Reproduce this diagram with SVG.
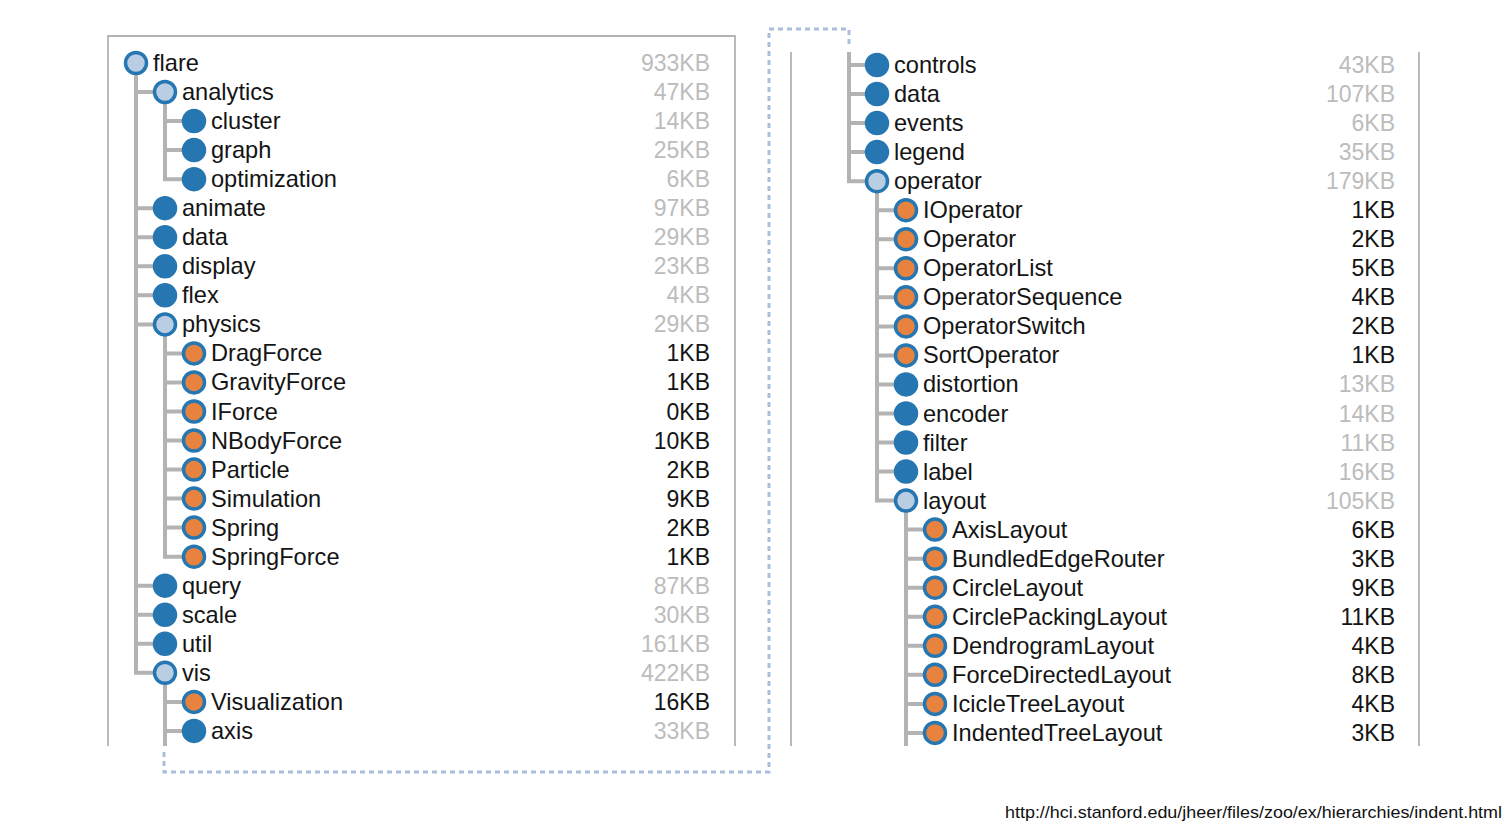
<svg xmlns="http://www.w3.org/2000/svg" width="1510" height="824" viewBox="0 0 1510 824">
<style>
text{font-family:"Liberation Sans",Arial,sans-serif;}
.lbl{font-size:23.6px;fill:#141414;}
.sz{font-size:23px;text-anchor:end;fill:#bcbcbc;}
.sz.leaf{fill:#141414;}
.n{stroke:#2677b1;stroke-width:3.5;}
.exp{fill:#b9cde3;}
.col{fill:#2677b1;}
.lf{fill:#e8833f;}
.link{fill:none;stroke:#b3b3b3;stroke-width:4;}
.frame{fill:none;stroke:#b3b3b3;stroke-width:1.8;}
.dash{fill:none;stroke:#a8bedc;stroke-width:3;stroke-dasharray:5 4;}
.url{font-size:17px;fill:#111;}
</style>
<rect width="1510" height="824" fill="#fff"/>
<g id="frames">
<path class="frame" d="M108 746V36H735V746"/>
<path class="frame" d="M791 52V746M1419 52V746"/>
</g>
<path id="continuation" class="dash" d="M164 752V772H769V29H849V48"/>
<g id="connectors">
<path class="link" d="M136 63V92H165M136 92V208.2H165M136 208V237.2H165M136 237V266.3H165M136 266V295.3H165M136 295V324.4H165M136 324V585.7H165M136 585V614.8H165M136 614V643.8H165M136 643V672.8H165"/>
<path class="link" d="M165 92V121.1H194M165 121V150.1H194M165 150V179.2H194"/>
<path class="link" d="M165 324.4V353.4H194M165 353V382.4H194M165 382V411.5H194M165 411V440.5H194M165 440V469.6H194M165 469V498.6H194M165 498V527.6H194M165 527V556.7H194"/>
<path class="link" d="M165 672.8V701.9H194M165 701V730.9H194M165 730V746"/>
<path class="link" d="M849 52V65H877M849 65V94H877M849 94V123.1H877M849 123V152.1H877M849 152V181.2H877"/>
<path class="link" d="M877 181.2V210.2H906M877 210V239.2H906M877 239V268.3H906M877 268V297.3H906M877 297V326.4H906M877 326V355.4H906M877 355V384.4H906M877 384V413.5H906M877 413V442.5H906M877 442V471.6H906M877 471V500.6H906"/>
<path class="link" d="M906 500.6V529.6H935M906 529V558.7H935M906 558V587.7H935M906 587V616.8H935M906 616V645.8H935M906 645V674.8H935M906 674V703.9H935M906 703V732.9H935M906 732V746"/>
</g>
<g id="n-flare"><circle class="n exp" cx="136" cy="63" r="10.5"/><text class="lbl" x="153" y="71">flare</text><text class="sz" x="710" y="71">933KB</text></g>
<g id="n-analytics"><circle class="n exp" cx="165" cy="92" r="10.5"/><text class="lbl" x="182" y="100">analytics</text><text class="sz" x="710" y="100">47KB</text></g>
<g id="n-cluster"><circle class="n col" cx="194" cy="121.1" r="10.5"/><text class="lbl" x="211" y="129.1">cluster</text><text class="sz" x="710" y="129.1">14KB</text></g>
<g id="n-graph"><circle class="n col" cx="194" cy="150.1" r="10.5"/><text class="lbl" x="211" y="158.1">graph</text><text class="sz" x="710" y="158.1">25KB</text></g>
<g id="n-optimization"><circle class="n col" cx="194" cy="179.2" r="10.5"/><text class="lbl" x="211" y="187.2">optimization</text><text class="sz" x="710" y="187.2">6KB</text></g>
<g id="n-animate"><circle class="n col" cx="165" cy="208.2" r="10.5"/><text class="lbl" x="182" y="216.2">animate</text><text class="sz" x="710" y="216.2">97KB</text></g>
<g id="n-data"><circle class="n col" cx="165" cy="237.2" r="10.5"/><text class="lbl" x="182" y="245.2">data</text><text class="sz" x="710" y="245.2">29KB</text></g>
<g id="n-display"><circle class="n col" cx="165" cy="266.3" r="10.5"/><text class="lbl" x="182" y="274.3">display</text><text class="sz" x="710" y="274.3">23KB</text></g>
<g id="n-flex"><circle class="n col" cx="165" cy="295.3" r="10.5"/><text class="lbl" x="182" y="303.3">flex</text><text class="sz" x="710" y="303.3">4KB</text></g>
<g id="n-physics"><circle class="n exp" cx="165" cy="324.4" r="10.5"/><text class="lbl" x="182" y="332.4">physics</text><text class="sz" x="710" y="332.4">29KB</text></g>
<g id="n-DragForce"><circle class="n lf" cx="194" cy="353.4" r="10.5"/><text class="lbl" x="211" y="361.4">DragForce</text><text class="sz leaf" x="710" y="361.4">1KB</text></g>
<g id="n-GravityForce"><circle class="n lf" cx="194" cy="382.4" r="10.5"/><text class="lbl" x="211" y="390.4">GravityForce</text><text class="sz leaf" x="710" y="390.4">1KB</text></g>
<g id="n-IForce"><circle class="n lf" cx="194" cy="411.5" r="10.5"/><text class="lbl" x="211" y="419.5">IForce</text><text class="sz leaf" x="710" y="419.5">0KB</text></g>
<g id="n-NBodyForce"><circle class="n lf" cx="194" cy="440.5" r="10.5"/><text class="lbl" x="211" y="448.5">NBodyForce</text><text class="sz leaf" x="710" y="448.5">10KB</text></g>
<g id="n-Particle"><circle class="n lf" cx="194" cy="469.6" r="10.5"/><text class="lbl" x="211" y="477.6">Particle</text><text class="sz leaf" x="710" y="477.6">2KB</text></g>
<g id="n-Simulation"><circle class="n lf" cx="194" cy="498.6" r="10.5"/><text class="lbl" x="211" y="506.6">Simulation</text><text class="sz leaf" x="710" y="506.6">9KB</text></g>
<g id="n-Spring"><circle class="n lf" cx="194" cy="527.6" r="10.5"/><text class="lbl" x="211" y="535.6">Spring</text><text class="sz leaf" x="710" y="535.6">2KB</text></g>
<g id="n-SpringForce"><circle class="n lf" cx="194" cy="556.7" r="10.5"/><text class="lbl" x="211" y="564.7">SpringForce</text><text class="sz leaf" x="710" y="564.7">1KB</text></g>
<g id="n-query"><circle class="n col" cx="165" cy="585.7" r="10.5"/><text class="lbl" x="182" y="593.7">query</text><text class="sz" x="710" y="593.7">87KB</text></g>
<g id="n-scale"><circle class="n col" cx="165" cy="614.8" r="10.5"/><text class="lbl" x="182" y="622.8">scale</text><text class="sz" x="710" y="622.8">30KB</text></g>
<g id="n-util"><circle class="n col" cx="165" cy="643.8" r="10.5"/><text class="lbl" x="182" y="651.8">util</text><text class="sz" x="710" y="651.8">161KB</text></g>
<g id="n-vis"><circle class="n exp" cx="165" cy="672.8" r="10.5"/><text class="lbl" x="182" y="680.8">vis</text><text class="sz" x="710" y="680.8">422KB</text></g>
<g id="n-Visualization"><circle class="n lf" cx="194" cy="701.9" r="10.5"/><text class="lbl" x="211" y="709.9">Visualization</text><text class="sz leaf" x="710" y="709.9">16KB</text></g>
<g id="n-axis"><circle class="n col" cx="194" cy="730.9" r="10.5"/><text class="lbl" x="211" y="738.9">axis</text><text class="sz" x="710" y="738.9">33KB</text></g>
<g id="n-controls"><circle class="n col" cx="877" cy="65" r="10.5"/><text class="lbl" x="894" y="73">controls</text><text class="sz" x="1395" y="73">43KB</text></g>
<g id="n-vis-data"><circle class="n col" cx="877" cy="94" r="10.5"/><text class="lbl" x="894" y="102">data</text><text class="sz" x="1395" y="102">107KB</text></g>
<g id="n-events"><circle class="n col" cx="877" cy="123.1" r="10.5"/><text class="lbl" x="894" y="131.1">events</text><text class="sz" x="1395" y="131.1">6KB</text></g>
<g id="n-legend"><circle class="n col" cx="877" cy="152.1" r="10.5"/><text class="lbl" x="894" y="160.1">legend</text><text class="sz" x="1395" y="160.1">35KB</text></g>
<g id="n-operator"><circle class="n exp" cx="877" cy="181.2" r="10.5"/><text class="lbl" x="894" y="189.2">operator</text><text class="sz" x="1395" y="189.2">179KB</text></g>
<g id="n-IOperator"><circle class="n lf" cx="906" cy="210.2" r="10.5"/><text class="lbl" x="923" y="218.2">IOperator</text><text class="sz leaf" x="1395" y="218.2">1KB</text></g>
<g id="n-Operator"><circle class="n lf" cx="906" cy="239.2" r="10.5"/><text class="lbl" x="923" y="247.2">Operator</text><text class="sz leaf" x="1395" y="247.2">2KB</text></g>
<g id="n-OperatorList"><circle class="n lf" cx="906" cy="268.3" r="10.5"/><text class="lbl" x="923" y="276.3">OperatorList</text><text class="sz leaf" x="1395" y="276.3">5KB</text></g>
<g id="n-OperatorSequence"><circle class="n lf" cx="906" cy="297.3" r="10.5"/><text class="lbl" x="923" y="305.3">OperatorSequence</text><text class="sz leaf" x="1395" y="305.3">4KB</text></g>
<g id="n-OperatorSwitch"><circle class="n lf" cx="906" cy="326.4" r="10.5"/><text class="lbl" x="923" y="334.4">OperatorSwitch</text><text class="sz leaf" x="1395" y="334.4">2KB</text></g>
<g id="n-SortOperator"><circle class="n lf" cx="906" cy="355.4" r="10.5"/><text class="lbl" x="923" y="363.4">SortOperator</text><text class="sz leaf" x="1395" y="363.4">1KB</text></g>
<g id="n-distortion"><circle class="n col" cx="906" cy="384.4" r="10.5"/><text class="lbl" x="923" y="392.4">distortion</text><text class="sz" x="1395" y="392.4">13KB</text></g>
<g id="n-encoder"><circle class="n col" cx="906" cy="413.5" r="10.5"/><text class="lbl" x="923" y="421.5">encoder</text><text class="sz" x="1395" y="421.5">14KB</text></g>
<g id="n-filter"><circle class="n col" cx="906" cy="442.5" r="10.5"/><text class="lbl" x="923" y="450.5">filter</text><text class="sz" x="1395" y="450.5">11KB</text></g>
<g id="n-label"><circle class="n col" cx="906" cy="471.6" r="10.5"/><text class="lbl" x="923" y="479.6">label</text><text class="sz" x="1395" y="479.6">16KB</text></g>
<g id="n-layout"><circle class="n exp" cx="906" cy="500.6" r="10.5"/><text class="lbl" x="923" y="508.6">layout</text><text class="sz" x="1395" y="508.6">105KB</text></g>
<g id="n-AxisLayout"><circle class="n lf" cx="935" cy="529.6" r="10.5"/><text class="lbl" x="952" y="537.6">AxisLayout</text><text class="sz leaf" x="1395" y="537.6">6KB</text></g>
<g id="n-BundledEdgeRouter"><circle class="n lf" cx="935" cy="558.7" r="10.5"/><text class="lbl" x="952" y="566.7">BundledEdgeRouter</text><text class="sz leaf" x="1395" y="566.7">3KB</text></g>
<g id="n-CircleLayout"><circle class="n lf" cx="935" cy="587.7" r="10.5"/><text class="lbl" x="952" y="595.7">CircleLayout</text><text class="sz leaf" x="1395" y="595.7">9KB</text></g>
<g id="n-CirclePackingLayout"><circle class="n lf" cx="935" cy="616.8" r="10.5"/><text class="lbl" x="952" y="624.8">CirclePackingLayout</text><text class="sz leaf" x="1395" y="624.8">11KB</text></g>
<g id="n-DendrogramLayout"><circle class="n lf" cx="935" cy="645.8" r="10.5"/><text class="lbl" x="952" y="653.8">DendrogramLayout</text><text class="sz leaf" x="1395" y="653.8">4KB</text></g>
<g id="n-ForceDirectedLayout"><circle class="n lf" cx="935" cy="674.8" r="10.5"/><text class="lbl" x="952" y="682.8">ForceDirectedLayout</text><text class="sz leaf" x="1395" y="682.8">8KB</text></g>
<g id="n-IcicleTreeLayout"><circle class="n lf" cx="935" cy="703.9" r="10.5"/><text class="lbl" x="952" y="711.9">IcicleTreeLayout</text><text class="sz leaf" x="1395" y="711.9">4KB</text></g>
<g id="n-IndentedTreeLayout"><circle class="n lf" cx="935" cy="732.9" r="10.5"/><text class="lbl" x="952" y="740.9">IndentedTreeLayout</text><text class="sz leaf" x="1395" y="740.9">3KB</text></g>
<text id="source-url" class="url" x="1005" y="818" textLength="497" lengthAdjust="spacingAndGlyphs">http://hci.stanford.edu/jheer/files/zoo/ex/hierarchies/indent.html</text>
</svg>
